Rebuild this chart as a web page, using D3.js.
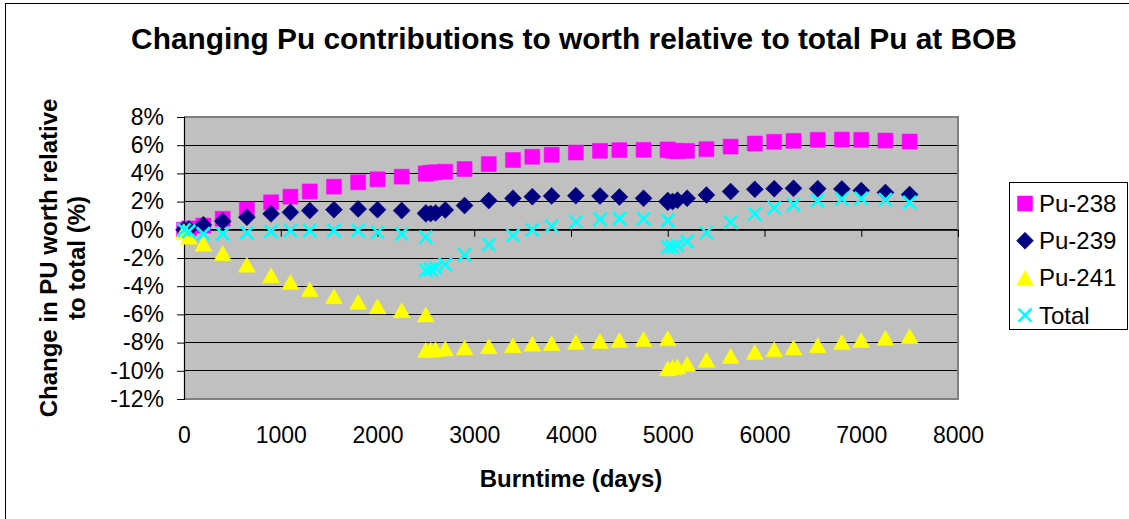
<!DOCTYPE html>
<html>
<head>
<meta charset="utf-8">
<script src="https://cdn.jsdelivr.net/npm/d3@7"></script>
<style>
  html, body { margin: 0; padding: 0; background: #ffffff; }
  svg { display: block; font-family: "Liberation Sans", Arial, sans-serif; }
</style>
</head>
<body>
<svg id="chart" width="1129" height="519"></svg>
<script>
// ---------------- DATA ----------------
const chartTitle = "Changing Pu contributions to worth relative to total Pu at BOB";
const xAxisTitle = "Burntime (days)";
const yAxisTitleLines = ["Change in PU worth relative", "to total (%)"];
const seriesNames = ["Pu-238", "Pu-239", "Pu-241", "Total"];

const burntimeDays = [0, 50, 200, 400, 650, 900, 1100, 1300, 1550, 1800,
  2000, 2250, 2500, 2500, 2550, 2600, 2700, 2900, 3150, 3400,
  3600, 3800, 4050, 4300, 4500, 4750, 5000, 5000, 5050, 5100,
  5200, 5400, 5650, 5900, 6100, 6300, 6550, 6800, 7000, 7250, 7500];

const pu238 = [0.0, 0.1, 0.3, 0.78, 1.45, 1.95, 2.35, 2.72, 3.06, 3.37,
  3.58, 3.77, 3.98, 4.0, 4.05, 4.08, 4.12, 4.31, 4.66, 4.95,
  5.18, 5.32, 5.48, 5.6, 5.65, 5.67, 5.7, 5.65, 5.6, 5.58,
  5.6, 5.72, 5.9, 6.12, 6.24, 6.31, 6.38, 6.4, 6.38, 6.33, 6.26];

const pu239 = [0.0, 0.05, 0.35, 0.61, 0.89, 1.13, 1.24, 1.36, 1.43, 1.48,
  1.43, 1.36, 1.2, 1.13, 1.15, 1.2, 1.41, 1.72, 2.07, 2.23,
  2.35, 2.4, 2.42, 2.4, 2.33, 2.23, 2.07, 1.95, 2.0, 2.1,
  2.23, 2.47, 2.71, 2.87, 2.92, 2.94, 2.92, 2.9, 2.78, 2.65, 2.5];

const pu241 = [-0.1, -0.5, -0.99, -1.65, -2.47, -3.23, -3.7, -4.22, -4.71, -5.11,
  -5.42, -5.7, -6.0, -8.53, -8.5, -8.48, -8.41, -8.34, -8.25, -8.18,
  -8.08, -8.04, -7.96, -7.89, -7.82, -7.75, -7.7, -9.83, -9.75, -9.7,
  -9.5, -9.22, -8.95, -8.67, -8.48, -8.34, -8.18, -7.96, -7.82, -7.66, -7.54];

const puTotal = [0.0, -0.1, -0.28, -0.28, -0.21, -0.12, -0.05, -0.05, -0.05, -0.05,
  -0.17, -0.28, -0.52, -2.88, -2.8, -2.7, -2.45, -1.77, -1.04, -0.4,
  0.0, 0.28, 0.56, 0.75, 0.8, 0.78, 0.66, -1.23, -1.2, -1.1,
  -0.83, -0.2, 0.54, 1.13, 1.55, 1.79, 2.07, 2.19, 2.23, 2.14, 1.95];

const xTicks = [0, 1000, 2000, 3000, 4000, 5000, 6000, 7000, 8000];
const yTicks = [-12, -10, -8, -6, -4, -2, 0, 2, 4, 6, 8];

// ---------------- LAYOUT ----------------
const svg = d3.select("#chart");
const plot = { left: 184, right: 958, top: 117, bottom: 399 };

const x = d3.scaleLinear().domain([0, 8000]).range([plot.left, plot.right]);
const y = d3.scaleLinear().domain([-12, 8]).range([plot.bottom, plot.top]);

const colors = ["#ff00ff", "#000080", "#ffff00", "#00ffff"];
const shapes = ["square", "diamond", "triangle", "cross"];
const seriesValues = [pu238, pu239, pu241, puTotal];

function markerPath(shape, s) {
  const h = s / 2;
  switch (shape) {
    case "square": return `M${-h},${-h}H${h}V${h}H${-h}Z`;
    case "diamond": return `M0,${-h - 1}L${h + 1},0L0,${h + 1}L${-h - 1},0Z`;
    case "triangle": return `M0,${-h}L${h + 1},${h}L${-h - 1},${h}Z`;
    case "cross": return `M${-h + 1},${-h + 1}L${h - 1},${h - 1}M${h - 1},${-h + 1}L${-h + 1},${h - 1}`;
  }
}

// outer chart frame
svg.append("rect")
  .attr("x", 5.5).attr("y", 3.5)
  .attr("width", 1200).attr("height", 600)
  .attr("fill", "#ffffff").attr("stroke", "#000000").attr("stroke-width", 1);

// plot background
svg.append("rect")
  .attr("x", plot.left).attr("y", plot.top)
  .attr("width", plot.right - plot.left).attr("height", plot.bottom - plot.top)
  .attr("fill", "#c0c0c0");

// gridlines
svg.append("g")
  .selectAll("line")
  .data(yTicks.filter(v => v > -12 && v < 8))
  .join("line")
  .attr("x1", plot.left).attr("x2", plot.right)
  .attr("y1", d => y(d)).attr("y2", d => y(d))
  .attr("stroke", "#000000").attr("stroke-width", 1)
  .attr("shape-rendering", "crispEdges");

// plot border (gray) top/right/bottom
svg.append("path")
  .attr("d", `M${plot.left},${plot.top}H${plot.right}V${plot.bottom}H${plot.left}`)
  .attr("fill", "none").attr("stroke", "#808080").attr("stroke-width", 2);

// y axis
const yAxis = d3.axisLeft(y).tickValues(yTicks).tickSize(7).tickPadding(13)
  .tickFormat(d => d + "%");
const gy = svg.append("g").attr("transform", `translate(${plot.left},0)`).call(yAxis);
gy.select(".domain").attr("stroke", "#000").attr("stroke-width", 1.2);
gy.selectAll(".tick line").attr("stroke", "#000");
gy.selectAll("text").attr("font-size", 23).attr("fill", "#000")
  .attr("font-family", "Liberation Sans, Arial, sans-serif");

// x axis line at 0 with ticks going down
const xAxis = d3.axisBottom(x).tickValues(xTicks).tickSize(7).tickFormat("");
const gx = svg.append("g").attr("transform", `translate(0,${y(0)})`).call(xAxis);
gx.select(".domain").attr("stroke", "#000").attr("stroke-width", 1);
gx.selectAll(".tick line").attr("stroke", "#000");

// x tick labels at bottom
const xLab = d3.axisBottom(x).tickValues(xTicks).tickSize(0).tickPadding(0).tickFormat(d3.format("d"));
const gxl = svg.append("g").attr("transform", `translate(0,${plot.bottom})`).call(xLab);
gxl.select(".domain").remove();
gxl.selectAll("text").attr("font-size", 23).attr("fill", "#000")
  .attr("dy", null).attr("y", 44)
  .attr("font-family", "Liberation Sans, Arial, sans-serif");

// series markers
seriesNames.forEach((name, i) => {
  const pts = burntimeDays.map((d, k) => [d, seriesValues[i][k]]);
  const g = svg.append("g").attr("class", "series-" + i);
  g.selectAll("path")
    .data(pts)
    .join("path")
    .attr("transform", d => `translate(${x(d[0])},${y(d[1])})`)
    .attr("d", markerPath(shapes[i], shapes[i] === "cross" ? 15 : 15))
    .attr("fill", shapes[i] === "cross" ? "none" : colors[i])
    .attr("stroke", colors[i])
    .attr("stroke-width", shapes[i] === "cross" ? 2.6 : 0.5);
});

// title
const title = svg.append("text")
  .attr("x", 574).attr("y", 49)
  .attr("text-anchor", "middle")
  .attr("font-weight", "bold")
  .attr("font-size", 26)
  .attr("fill", "#000")
  .text(chartTitle);
const tw = title.node().getComputedTextLength();
title.attr("font-size", 26 * 886 / tw);

// x axis title
svg.append("text")
  .attr("x", 571).attr("y", 487)
  .attr("text-anchor", "middle")
  .attr("font-weight", "bold")
  .attr("font-size", 24)
  .attr("fill", "#000")
  .text(xAxisTitle);

// y axis title (two lines, rotated)
yAxisTitleLines.forEach((line, i) => {
  svg.append("text")
    .attr("transform", `translate(${57 + i * 27.5},258) rotate(-90)`)
    .attr("text-anchor", "middle")
    .attr("font-weight", "bold")
    .attr("font-size", 24)
    .attr("fill", "#000")
    .text(line);
});

// legend
const legend = svg.append("g");
legend.append("rect")
  .attr("x", 1009.5).attr("y", 182.5)
  .attr("width", 118).attr("height", 147)
  .attr("fill", "#ffffff").attr("stroke", "#000").attr("stroke-width", 1);
seriesNames.forEach((name, i) => {
  const cy = 203.5 + i * 37.2;
  legend.append("path")
    .attr("transform", `translate(1025,${cy})`)
    .attr("d", markerPath(shapes[i], 15))
    .attr("fill", shapes[i] === "cross" ? "none" : colors[i])
    .attr("stroke", colors[i])
    .attr("stroke-width", shapes[i] === "cross" ? 2.6 : 0.5);
  legend.append("text")
    .attr("x", 1039).attr("y", cy + 8.5)
    .attr("font-size", 24)
    .attr("fill", "#000")
    .text(name);
});
</script>
</body>
</html>
